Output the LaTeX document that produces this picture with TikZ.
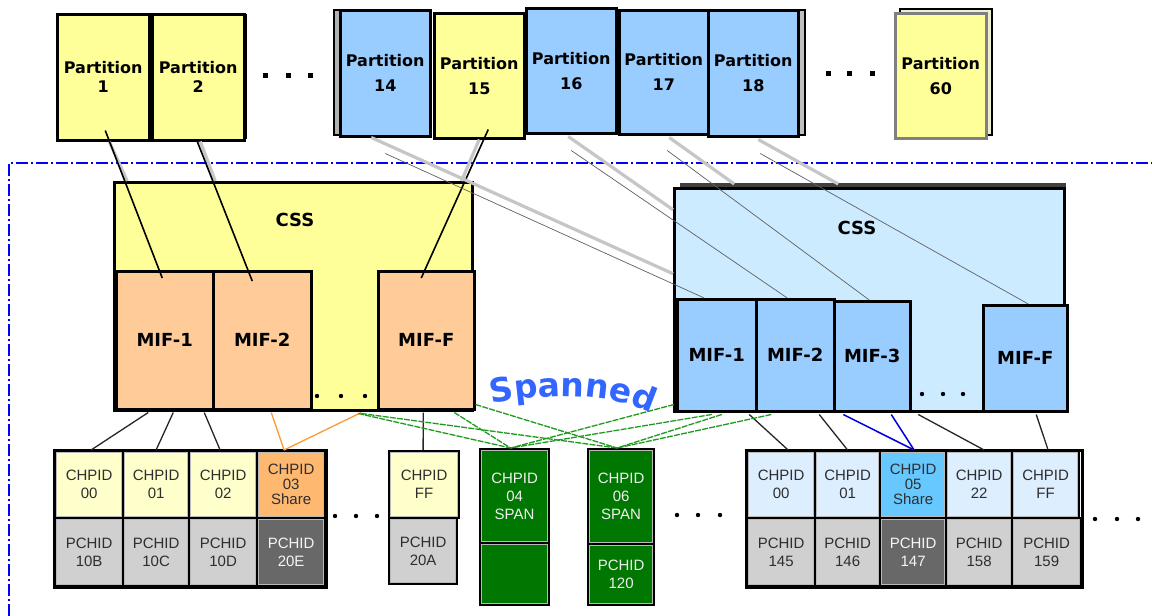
\documentclass[tikz,border=0pt]{standalone}
\usepackage{fontspec}
\setmainfont{Liberation Sans}
\newfontfamily\lblfont{DejaVu Sans}
\newfontfamily\spanfont{DejaVu Sans}
\usetikzlibrary{calc,decorations.text}

\definecolor{pyellow}{HTML}{FFFF99}
\definecolor{pblue}{HTML}{99CCFF}
\definecolor{peach}{HTML}{FFCC99}
\definecolor{cssblue}{HTML}{CCEBFF}
\definecolor{chy}{HTML}{FFFFCC}
\definecolor{chorange}{HTML}{FFB870}
\definecolor{chblue}{HTML}{DDEEFF}
\definecolor{chshare}{HTML}{66C8FF}
\definecolor{pgray}{HTML}{D0D0D0}
\definecolor{pdark}{HTML}{686868}
\definecolor{spangreen}{HTML}{007700}
\definecolor{spanblue}{HTML}{3366FF}
\definecolor{linkgreen}{HTML}{1F9A1F}
\definecolor{linkorange}{HTML}{FF9933}
\definecolor{cream}{HTML}{EEEED0}

\begin{document}
\begin{tikzpicture}[x=1pt,y=-1pt,
  box/.style={draw=black, line width=2.5pt, anchor=north west, inner sep=0pt, align=center},
  part/.style={box, font=\lblfont\bfseries\fontsize{16}{25}\selectfont},
  mif/.style={box, fill=peach, font=\lblfont\bfseries\fontsize{18}{22}\selectfont},
  mifb/.style={mif, fill=pblue},
  csslbl/.style={font=\lblfont\bfseries\fontsize{18}{22}\selectfont, inner sep=0pt},
  cell/.style={draw=black, line width=2.2pt, anchor=north west, inner sep=0pt, align=center,
    font=\fontsize{15}{18}\selectfont, text=black!82},
  share/.style={font=\fontsize{15}{15}\selectfont},
  gcell/.style={cell, fill=spangreen, text=white!88!gray},
  dcell/.style={cell, fill=pdark, text=white!92!gray},
  rim/.style={draw=gray!55, line width=0.8pt},
  frame/.style={draw=blue, line width=1.6pt, dash pattern=on 12pt off 3pt on 2pt off 3pt},
  shadowlink/.style={draw=gray!45, line width=3.2pt},
  thinlink/.style={draw=gray!75!black, line width=0.7pt},
  plink/.style={draw=black, line width=1.6pt},
  clink/.style={draw=black!85, line width=1.3pt},
  olink/.style={draw=linkorange, line width=1.3pt},
  blink/.style={draw=blue!85!black, line width=1.5pt},
  glink/.style={draw=linkgreen, line width=1.3pt, dash pattern=on 6pt off 1.2pt},
  dot/.style={fill=black}
]
\useasboundingbox[fill=white] (0,0) rectangle (1152,616);

% ---------- partitions ----------
\fill[black] (154,14) rectangle (247,139);
\node[part, fill=pyellow, minimum width=92, minimum height=126] (p1) at (56,13) {\raisebox{-4pt}{\shortstack{Partition\\[4pt]1}}};
\node[part, fill=pyellow, minimum width=92, minimum height=126] (p2) at (151,13) {\raisebox{-4pt}{\shortstack{Partition\\[4pt]2}}};

\filldraw[fill=gray!60, draw=black, line width=2pt] (334,10) rectangle (425,135);
\node[part, fill=pblue, minimum width=90, minimum height=126] (p14) at (339,9) {Partition\\14};
\node[part, fill=pyellow, minimum width=90, minimum height=125] (p15) at (433,12) {Partition\\15};
\node[part, fill=pblue, minimum width=90, minimum height=125] (p16) at (525,7) {Partition\\16};
\node[part, fill=pblue, minimum width=89, minimum height=124] (p17) at (618,9) {Partition\\17};
\filldraw[fill=gray!50, draw=black, line width=2pt] (712,10) rectangle (805,135);
\node[part, fill=pblue, minimum width=90, minimum height=126] (p18) at (707,9) {Partition\\18};

\filldraw[fill=cream, draw=black, line width=2pt] (900,9) rectangle (992,135);
\node[part, fill=pyellow, draw=gray, minimum width=91, minimum height=125] (p60) at (894,12) {Partition\\60};

\foreach \x in {265,288,310} \fill[dot] (\x-2.5,72.5) rectangle (\x+2.5,77.5);
\foreach \x in {828,849,872} \fill[dot] (\x-2.5,70.5) rectangle (\x+2.5,75.5);

% ---------- frame of the processor ----------
\draw[frame] (9,616) -- (9,163) -- (1152,163);

% ---------- left channel subsystem ----------
\node[box, fill=pyellow, minimum width=358, minimum height=228] (cssL) at (113,181) {};
\node[csslbl] (cssLt) at (295,220) {CSS};
\node[mif, minimum width=97, minimum height=138] (mL1) at (115,270) {\raisebox{-11pt}{MIF-1}};
\node[mif, minimum width=98, minimum height=138] (mL2) at (212,270) {\raisebox{-11pt}{MIF-2}};
\node[mif, minimum width=96, minimum height=138] (mLF) at (377,270) {\raisebox{-11pt}{MIF-F}};
\foreach \x in {317,341,365} \fill[dot] (\x,396) circle (2.2);

% ---------- right channel subsystem ----------
\fill[black!75] (680,183) rectangle (1066,400);
\node[box, fill=cssblue, minimum width=390, minimum height=223] (cssR) at (673,187) {};
\node[csslbl] (cssRt) at (857,228) {CSS};
\node[mifb, minimum width=79, minimum height=112] (mR1) at (676,298) {\raisebox{-12pt}{MIF-1}};
\node[mifb, minimum width=78, minimum height=112] (mR2) at (755,298) {\raisebox{-12pt}{MIF-2}};
\node[mifb, minimum width=76, minimum height=110] (mR3) at (833,300) {\raisebox{-12pt}{MIF-3}};
\node[mifb, minimum width=84, minimum height=106] (mRF) at (982,304) {\raisebox{-13pt}{MIF-F}};
\foreach \x in {922,943,963} \fill[dot] (\x,394) circle (2.2);

% ---------- partition to CSS / MIF links ----------
\draw[shadowlink] ($(p1.south)+(6,0)$) -- ($(cssL.north)+(-166,0)$);
\draw[shadowlink] ($(p2.south)+(2,0)$) -- ($(cssL.north)+(-78,0)$);
\draw[shadowlink] ($(p15.south)+(0,0)$) -- ($(cssL.north east)+(-12,0)$);
\draw[plink] ($(p1.south)+(2,-11)$) -- ($(mL1.north)+(-2.5,8)$);
\draw[plink] ($(p2.south)+(-1,0)$) -- ($(mL2.north)+(-10,11)$);
\draw[plink] ($(p15.south)+(9,-10)$) -- ($(mLF.north)+(-5,8)$);

\draw[shadowlink] ($(p14.south)+(-14,0)$) -- ($(cssR.west)+(0,-26)$);
\draw[shadowlink] ($(p16.south)+(-3,2)$) -- ($(cssR.west)+(0,-90)$);
\draw[shadowlink] ($(p17.south)+(5.5,2)$) -- ($(cssR.north)+(-135,-3)$);
\draw[shadowlink] ($(p18.south)+(5,2)$) -- ($(cssR.north)+(-31,-3)$);
\draw[thinlink] ($(p14.south)+(0,16)$) -- ($(mR1.north)+(-12.5,0)$);
\draw[thinlink] ($(p16.south)+(0,16)$) -- ($(mR2.north)+(-8,0)$);
\draw[thinlink] ($(p17.south)+(3.5,15)$) -- ($(mR3.north)+(-3,0)$);
\draw[thinlink] ($(p18.south)+(7,16)$) -- ($(mRF.north)+(3,0)$);

% ---------- left CHPID / PCHID group ----------
\node[cell, fill=chy, minimum width=68, minimum height=67] (c00) at (54,450) {CHPID\\00};
\node[cell, fill=chy, minimum width=66, minimum height=67] (c01) at (122,450) {CHPID\\01};
\node[cell, fill=chy, minimum width=68, minimum height=67] (c02) at (188,450) {CHPID\\02};
\node[cell, share, fill=chorange, minimum width=68, minimum height=67] (c03) at (256,450) {CHPID\\03\\Share};
\node[cell, fill=pgray, minimum width=68, minimum height=68] (q0) at (54,517) {PCHID\\10B};
\node[cell, fill=pgray, minimum width=66, minimum height=68] (q1) at (122,517) {PCHID\\10C};
\node[cell, fill=pgray, minimum width=68, minimum height=68] (q2) at (188,517) {PCHID\\10D};
\node[dcell, minimum width=68, minimum height=68] (q3) at (256,517) {PCHID\\20E};
\draw[black, line width=3pt] (c00.north west) rectangle (q3.south east);

\node[cell, fill=chy, minimum width=70, minimum height=67] (cFF) at (388,450) {CHPID\\FF};
\node[cell, fill=pgray, minimum width=68, minimum height=66] (qFF) at (388,517) {PCHID\\20A};
\foreach \x in {335,356,377} \fill[dot] (\x,516) circle (2.2);

% ---------- spanned channels ----------
\node[gcell, minimum width=69, minimum height=94] (g04) at (479,448) {CHPID\\04\\SPAN};
\node[gcell, minimum width=69, minimum height=62] (g04b) at (479,542) {};
\node[gcell, minimum width=66, minimum height=95] (g06) at (587,448) {CHPID\\06\\SPAN};
\node[gcell, minimum width=66, minimum height=61] (g06b) at (587,543) {PCHID\\120};
\foreach \x in {677,698,720} \fill[dot] (\x,515) circle (2.2);

% ---------- right CHPID / PCHID group ----------
\node[cell, fill=chblue, minimum width=68, minimum height=67] (r00) at (746,450) {CHPID\\00};
\node[cell, fill=chblue, minimum width=65, minimum height=67] (r01) at (814,450) {CHPID\\01};
\node[cell, share, fill=chshare, minimum width=66, minimum height=67] (r05) at (879,450) {CHPID\\05\\Share};
\node[cell, fill=chblue, minimum width=66, minimum height=67] (r22) at (945,450) {CHPID\\22};
\node[cell, fill=chblue, minimum width=67, minimum height=67] (rFF) at (1011,450) {CHPID\\FF};
\node[cell, fill=pgray, minimum width=68, minimum height=68] (s0) at (746,517) {PCHID\\145};
\node[cell, fill=pgray, minimum width=65, minimum height=68] (s1) at (814,517) {PCHID\\146};
\node[dcell, minimum width=66, minimum height=68] (s2) at (879,517) {PCHID\\147};
\node[cell, fill=pgray, minimum width=66, minimum height=68] (s3) at (945,517) {PCHID\\158};
\node[cell, fill=pgray, minimum width=69, minimum height=68] (s4) at (1011,517) {PCHID\\159};
\draw[black, line width=3pt] (r00.north west) rectangle (s4.south east);
\foreach \x in {1095,1117,1138} \fill[dot] (\x,519) circle (2.2);

% thin grey rims inside every cell
\foreach \n in {c00,c01,c02,c03,q0,q1,q2,q3,cFF,qFF,g04,g04b,g06,g06b,r00,r01,r05,r22,rFF,s0,s1,s2,s3,s4}
  \draw[rim] ([xshift=2.6pt,yshift=-2.6pt]\n.north west) rectangle ([xshift=-2.6pt,yshift=2.6pt]\n.south east);

% ---------- MIF to CHPID links ----------
\draw[clink] ($(mL1.south)+(-16.5,2)$) -- ($(c00.north)+(2,0)$);
\draw[clink] ($(mL1.south)+(8.5,2)$) -- (c01.north);
\draw[clink] ($(mL1.south)+(39.5,2)$) -- ($(c02.north)+(-3,0)$);
\draw[olink] ($(mL2.south)+(9,2)$) -- ($(c03.north)+(-7,0)$);
\draw[olink] ($(cssL.south)+(68,1)$) -- ($(c03.north)+(-7,0)$);
\draw[clink] ($(mLF.south)+(-3,2)$) -- ($(cFF.north)+(-1,0)$);

\draw[clink] ($(mR1.south)+(32.5,2)$) -- ($(r00.north)+(7,0)$);
\draw[clink] ($(mR2.south)+(24,2)$) -- (r01.north);
\draw[blink] ($(mR3.south)+(-29,2)$) -- ($(r05.north)+(1,0)$);
\draw[blink] ($(mR3.south)+(19,2)$) -- ($(r05.north)+(1,0)$);
\draw[clink] ($(cssR.south)+(49,2)$) -- ($(r22.north)+(5,0)$);
\draw[clink] ($(mRF.south)+(11,2)$) -- ($(rFF.north)+(2.5,0)$);

% spanned links from both channel subsystems
\draw[glink] ($(cssL.south)+(65,2)$) -- ($(g04.north)+(-4,0)$);
\draw[glink] ($(mLF.south)+(28,2)$) -- ($(g04.north)+(-4,0)$);
\draw[glink] ($(mR1.south west)+(-2,-8)$) -- ($(g04.north)+(-4,0)$);
\draw[glink] ($(mR1.south)+(-5,2)$) -- ($(g04.north)+(-4,0)$);
\draw[glink] ($(cssL.south)+(68,2)$) -- ($(g06.north)+(-4,0)$);
\draw[glink] ($(mLF.south east)+(0,-6)$) -- ($(g06.north)+(-4,0)$);
\draw[glink] ($(mR1.south)+(5,2)$) -- ($(g06.north)+(-4,0)$);
\draw[glink] ($(mR2.south)+(-24,2)$) -- ($(g06.north)+(-4,0)$);

% arched word
\path[decorate, decoration={text along path, text align=center,
  text={|\spanfont\bfseries\fontsize{33}{36}\selectfont\color{spanblue}|Spanned}}]
  (482,406) .. controls (540,393) and (612,390) .. (660,418);

\end{tikzpicture}
\end{document}
